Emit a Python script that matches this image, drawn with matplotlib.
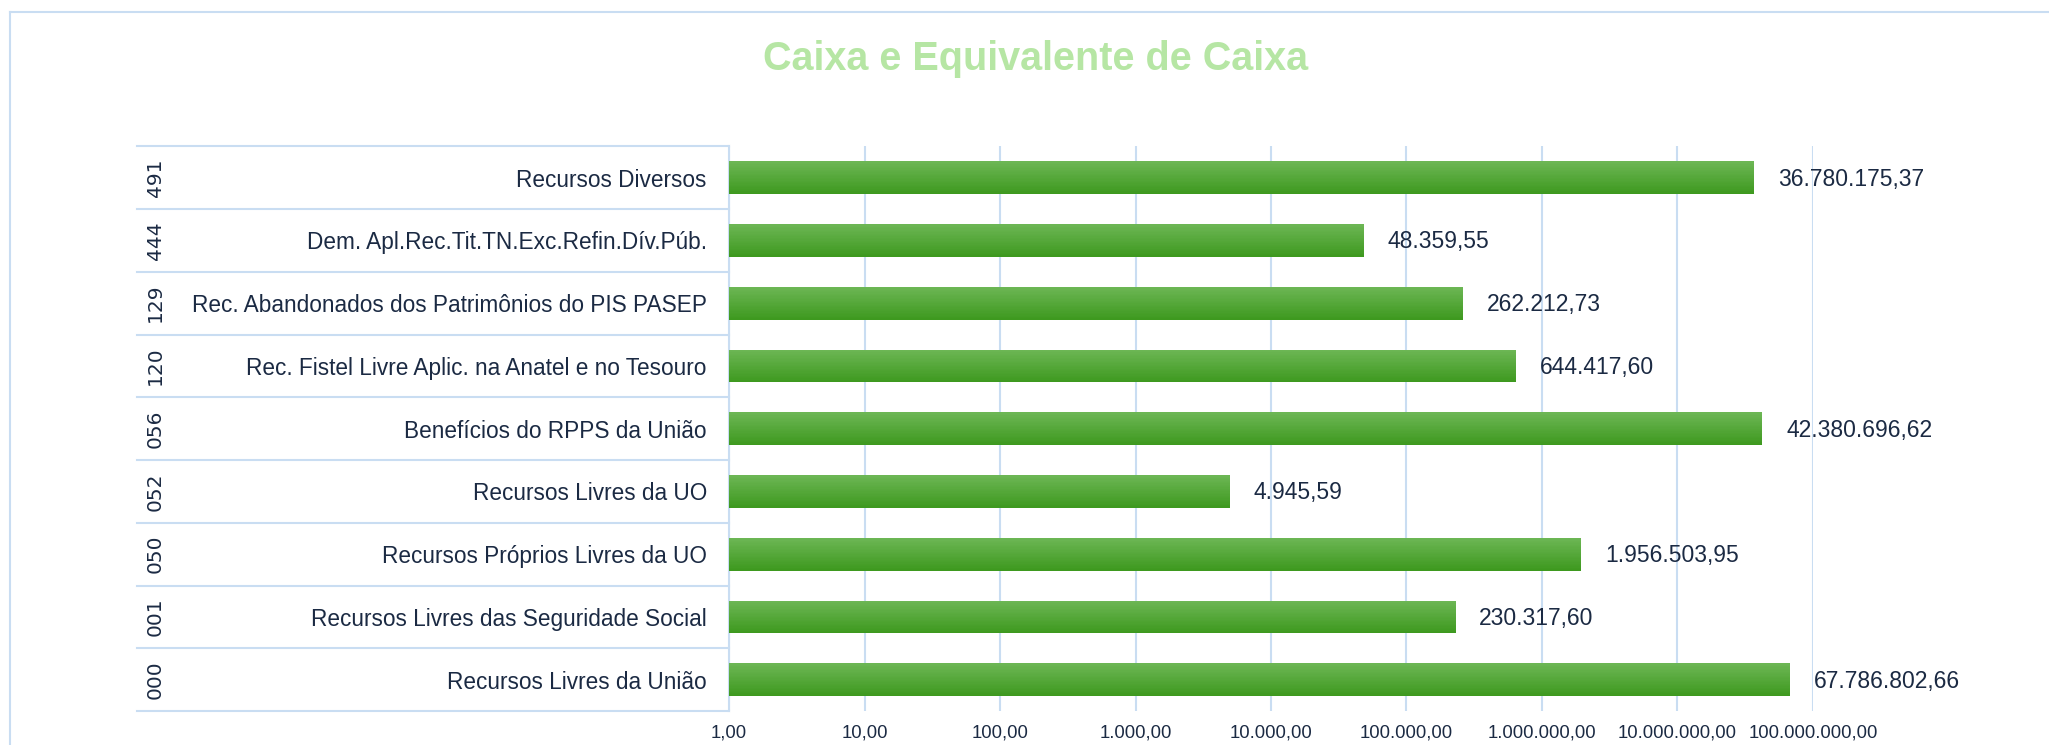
import matplotlib.pyplot as plt
import numpy as np
from matplotlib.lines import Line2D

codigos = ['000', '001', '050', '052', '056', '120', '129', '444', '491']
fontes = ['Recursos Livres da União',
          'Recursos Livres das Seguridade Social',
          'Recursos Próprios Livres da UO',
          'Recursos Livres da UO',
          'Benefícios do RPPS da União',
          'Rec. Fistel Livre Aplic. na Anatel e no Tesouro',
          'Rec. Abandonados dos Patrimônios do PIS PASEP',
          'Dem. Apl.Rec.Tit.TN.Exc.Refin.Dív.Púb.',
          'Recursos Diversos']
valores = [67786802.66, 230317.60, 1956503.95, 4945.59, 42380696.62,
           644417.60, 262212.73, 48359.55, 36780175.37]
ticks_x = [1, 10, 100, 1000, 10000, 100000, 1000000, 10000000, 100000000]

texto = '#1b2a43'
grade = '#c9ddf2'


def br(v):
    s = f'{v:,.2f}'
    return s.replace(',', 'X').replace('.', ',').replace('X', '.')


plt.rcParams['font.family'] = ['Liberation Sans', 'DejaVu Sans']

fig = plt.figure(figsize=(20.49, 7.45), dpi=100)
ax = fig.add_axes([0.3558, 0.0456, 0.5290, 0.7579])

# moldura externa
fig.add_artist(Line2D([10 / 2049, 10 / 2049], [0, 1 - 12 / 745], transform=fig.transFigure, color=grade, lw=1.5))
fig.add_artist(Line2D([10 / 2049, 1], [1 - 12 / 745, 1 - 12 / 745], transform=fig.transFigure, color=grade, lw=1.5))

ax.set_xscale('log')
ax.set_xlim(1, 1e8)
ax.set_ylim(-0.5, len(valores) - 0.5)

# barras com degradê vertical
y = np.arange(len(valores))
altura = 0.52
n = 24
topo = np.array([0x6c, 0xb6, 0x54]) / 255
base = np.array([0x3e, 0x99, 0x1f]) / 255
for k in range(n):
    f = k / (n - 1)
    cor = base * (1 - f) + topo * f
    off = -altura / 2 + (k + 0.5) * altura / n
    ax.barh(y + off, np.array(valores) - 1, left=1, height=altura / n * 1.05,
            color=cor, linewidth=0, zorder=3)

for yi, v in zip(y, valores):
    ax.annotate(br(v), (v, yi), xytext=(17, -1), textcoords='offset points',
                va='center', ha='left', fontsize=16.5, color=texto, annotation_clip=False)

ax.set_xticks(ticks_x)
ax.set_xticklabels([br(t) for t in ticks_x], fontsize=13.3, color=texto)
ax.minorticks_off()
ax.tick_params(axis='x', length=0, pad=10)
ax.grid(axis='x', color=grade, lw=1.5, zorder=0)

ax.set_yticks(y)
ax.set_yticklabels(fontes, fontsize=16.3, color=texto)
ax.tick_params(axis='y', length=0, pad=16)

for s in ['top', 'right', 'bottom']:
    ax.spines[s].set_visible(False)
ax.spines['left'].set_color(grade)
ax.spines['left'].set_linewidth(1.5)

# caixa de rótulos à esquerda
tr = ax.get_yaxis_transform()
x0 = (137 - 729) / 1084
for yl in np.arange(-0.5, len(valores), 1.0):
    ax.add_line(Line2D([x0, 0], [yl, yl], transform=tr, color=grade, lw=1.5, clip_on=False))
for yi, c in zip(y, codigos):
    ax.text((155 - 729) / 1084, yi, c, transform=tr, rotation=90, ha='center', va='center',
            fontsize=14.5, color=texto, family=['DejaVu Sans'])

fig.text(1036 / 2049, 1 - 59 / 745, 'Caixa e Equivalente de Caixa', ha='center', va='center',
         fontsize=28.5, fontweight='bold', color='#b6e6a4')

fig.savefig('out.png', dpi=100)
